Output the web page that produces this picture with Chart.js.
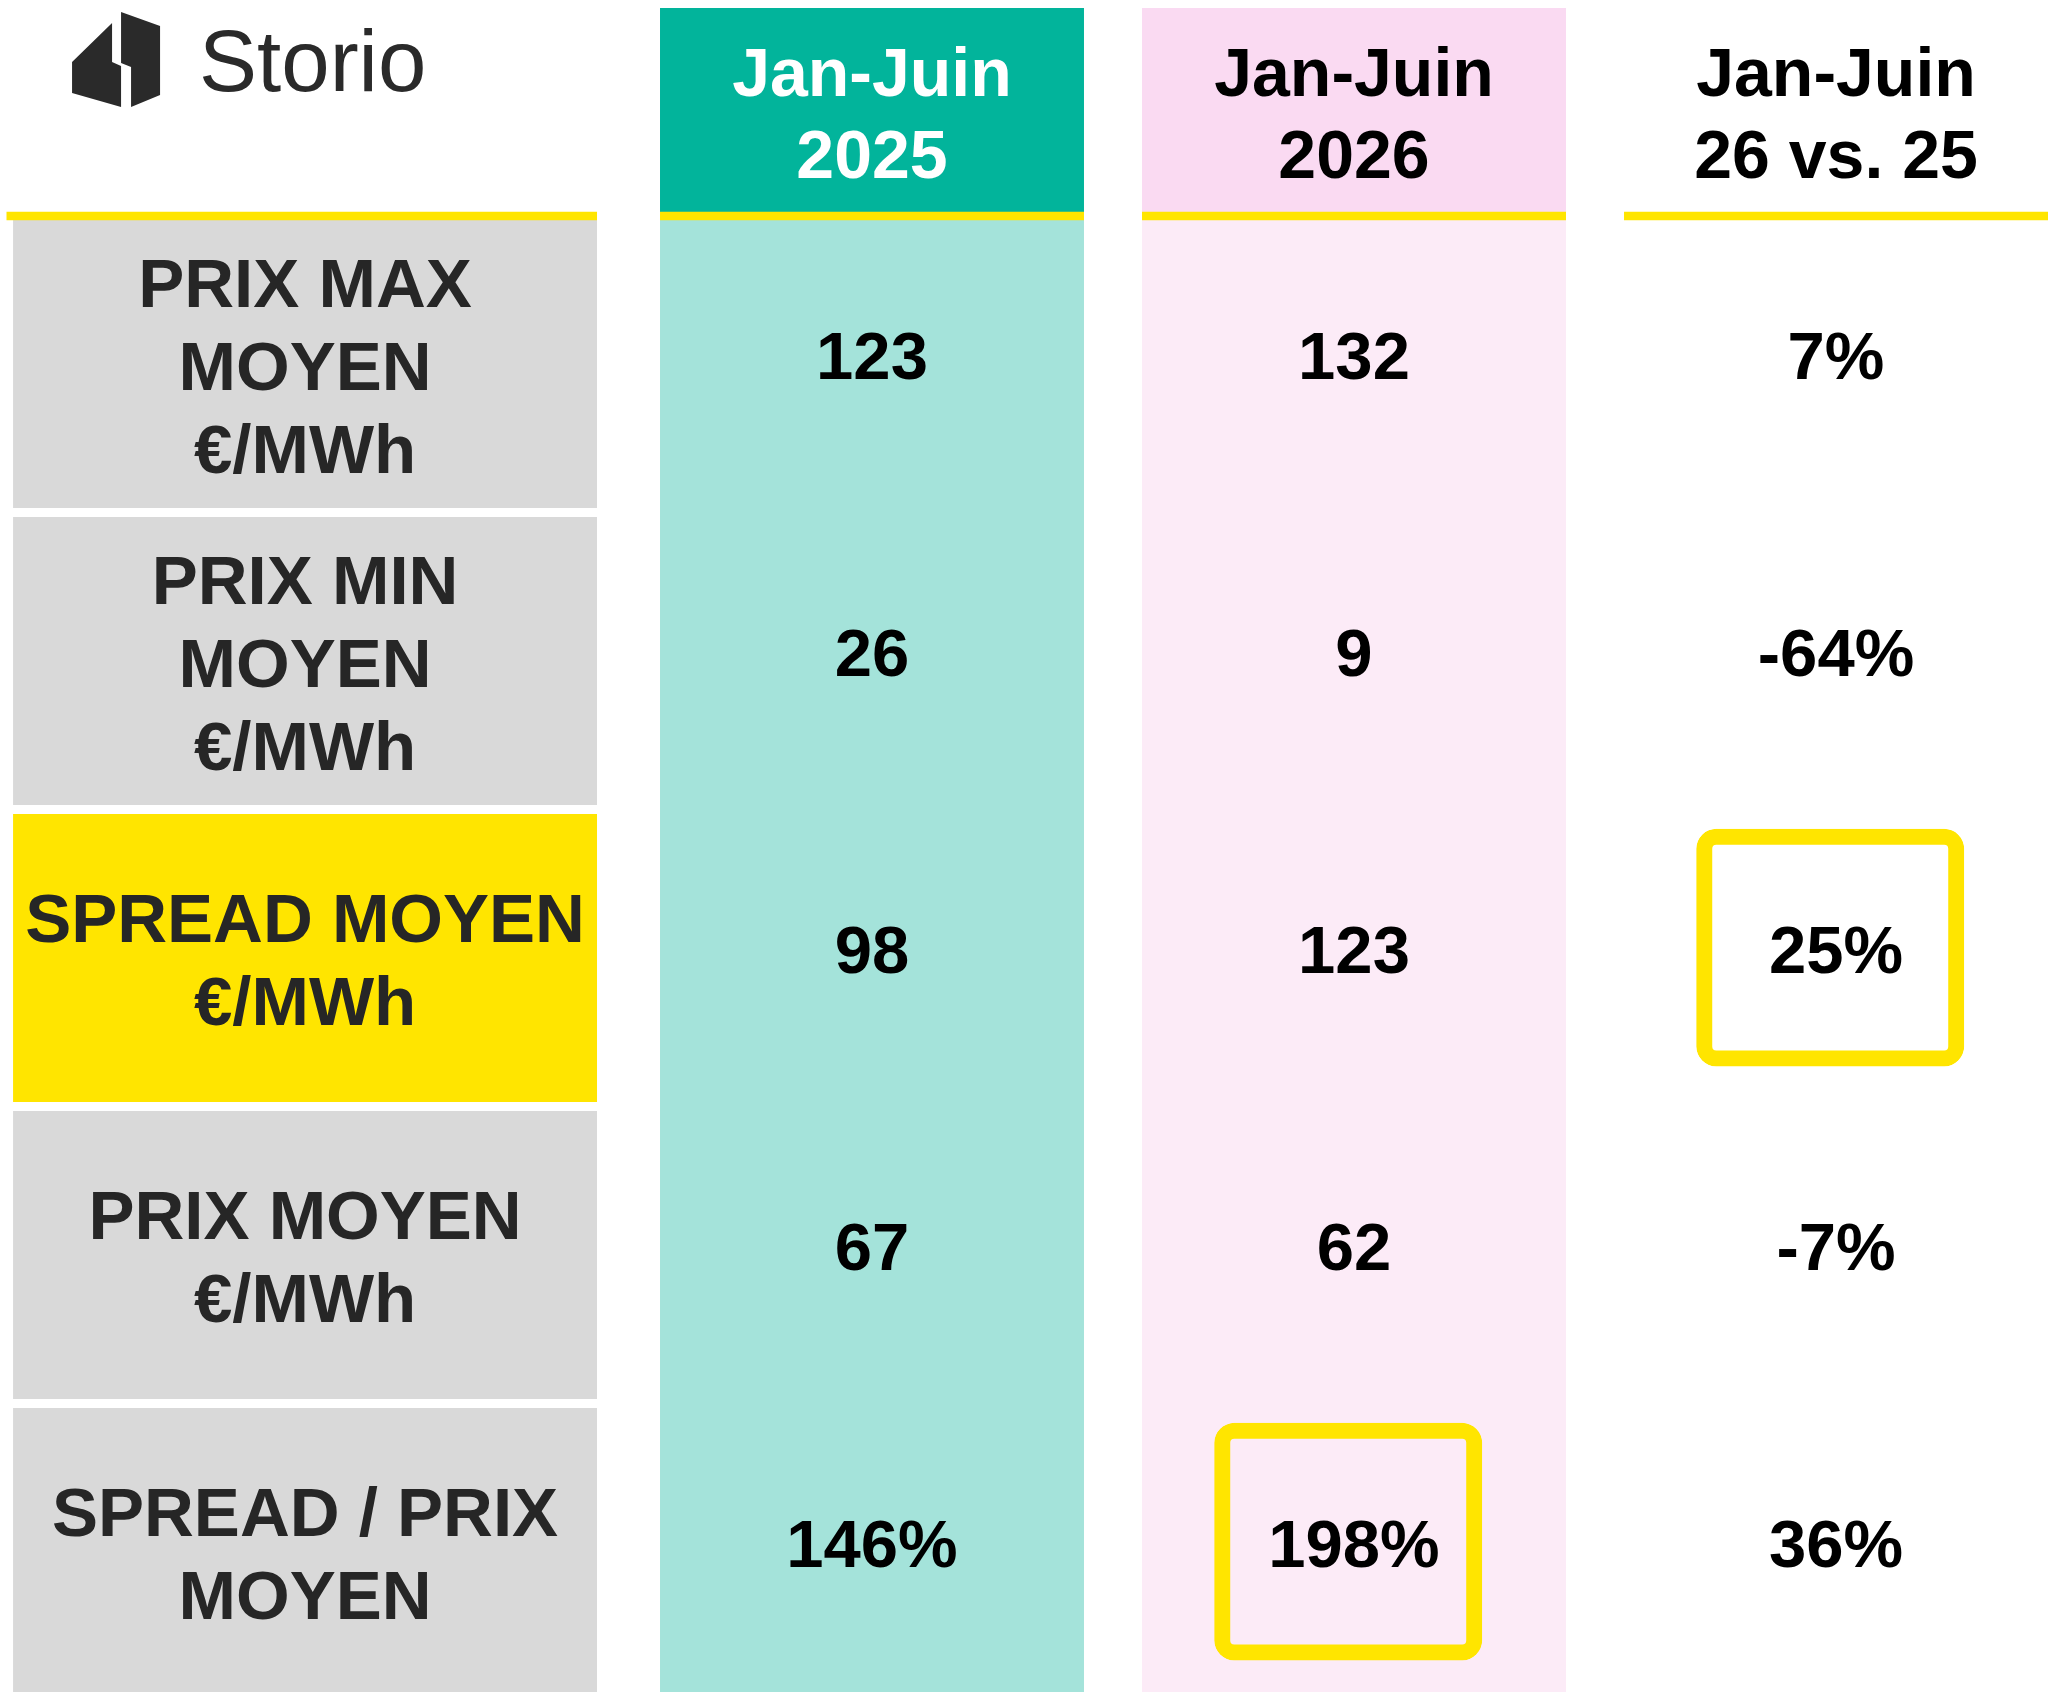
<!DOCTYPE html>
<html>
<head>
<meta charset="utf-8">
<script src="https://cdn.jsdelivr.net/npm/chart.js@4.4.1/dist/chart.umd.min.js"></script>
<style>
  html, body { margin: 0; padding: 0; background: #ffffff; }
  canvas { display: block; }
</style>
</head>
<body>
<canvas id="chart" width="2052" height="1692"></canvas>
<script>
// ---------------- data ----------------
const ROW_LABELS = [
  ["PRIX MAX", "MOYEN", "€/MWh"],
  ["PRIX MIN", "MOYEN", "€/MWh"],
  ["SPREAD MOYEN", "€/MWh"],
  ["PRIX MOYEN", "€/MWh"],
  ["SPREAD / PRIX", "MOYEN"]
];
const COLUMN_HEADERS = [["Jan-Juin", "2025"], ["Jan-Juin", "2026"], ["Jan-Juin", "26 vs. 25"]];
const VALUES_H1_2025 = [123, 26, 98, 67, 146];
const VALUES_H1_2026 = [132, 9, 123, 62, 198];
const CHANGE_26_VS_25 = [7, -64, 25, -7, 36];
const ROW_UNITS = ["", "", "", "", "%"];
const CHANGE_UNIT = "%";
const HIGHLIGHT_ROW = 2;
const HIGHLIGHT_CELLS = [{ column: 2, row: 2 }, { column: 1, row: 4 }];
const BRAND = "Storio";

// ---------------- layout (scale units) ----------------
const X_MIN = -1.8091, X_MAX = 2.4481;     // x: one unit = one data-column pitch
const Y_MIN = -0.7407, Y_MAX = 4.9562;     // y: one unit = one table row
const CANVAS_H = 1692;
const PX_PER_ROW = CANVAS_H / (Y_MAX - Y_MIN);
const rowsToPx = u => u * PX_PER_ROW;

const COL_HALF = 0.4398;
const LABEL_SPAN = [-1.782, -0.5705];
const LABEL_RULE_SPAN = [-1.7956, -0.5705];
const HEADER_SPAN = [-0.7138, -0.0269];
const RULE_SPAN = [-0.0269, 0.0];
const CELL_FILL = 0.97;
const LABEL_CENTER = 0.489;
const VALUE_CENTER = 0.456;
const HEADER_CENTER = -0.3603;
const HEADER_LINE_GAP = 0.276;
const LABEL_LINE_GAP = 0.2795;
const BOX_HALF_W = 0.278, BOX_H = 0.80, BOX_DX = -0.012, BOX_CY = 0.45;

// ---------------- styles ----------------
const TEAL = "#02B49B", TEAL_LIGHT = "#A4E3DA";
const PINK = "#FADAF2", PINK_LIGHT = "#FCEBF7";
const GRAY = "#D9D9D9", YELLOW = "#FFE500";
const LABEL_TEXT = "#262626", VALUE_TEXT = "#000000";
const FONT = '"Liberation Sans", Arial, Helvetica, sans-serif';
const CAP = 0.716;

const mid = s => (s[0] + s[1]) / 2;
const DATA_COLS = [0, 1, 2];
const COLUMN_VALUES = [
  VALUES_H1_2025.map((v, i) => v + ROW_UNITS[i]),
  VALUES_H1_2026.map((v, i) => v + ROW_UNITS[i]),
  CHANGE_26_VS_25.map(v => v + CHANGE_UNIT)
];

// body cells of the two period columns
const bodyData = [], bodyColors = [];
[0, 1].forEach(c => ROW_LABELS.forEach((_, i) => {
  bodyData.push({ y: i + 0.5, x: [c - COL_HALF, c + COL_HALF] });
  bodyColors.push(c === 0 ? TEAL_LIGHT : PINK_LIGHT);
}));

const headerData = [0, 1].map(c => ({ y: mid(HEADER_SPAN), x: [c - COL_HALF, c + COL_HALF] }));
const ruleData = [{ y: mid(RULE_SPAN), x: LABEL_RULE_SPAN }]
  .concat(DATA_COLS.map(c => ({ y: mid(RULE_SPAN), x: [c - COL_HALF, c + COL_HALF] })));
const labelCellData = ROW_LABELS.map((_, i) => ({ y: i + CELL_FILL / 2, x: LABEL_SPAN }));
const labelCellColors = ROW_LABELS.map((_, i) => i === HIGHLIGHT_ROW ? YELLOW : GRAY);
const boxData = HIGHLIGHT_CELLS.map(h => ({
  y: h.row + BOX_CY,
  x: [h.column + BOX_DX - BOX_HALF_W, h.column + BOX_DX + BOX_HALF_W]
}));

function drawText(ctx, text, x, cy, size, color, weight) {
  ctx.font = `${weight} ${size}px ${FONT}`;
  ctx.fillStyle = color;
  ctx.textAlign = "center";
  ctx.textBaseline = "alphabetic";
  ctx.fillText(text, x, cy + CAP * size / 2);
}

const tablePlugin = {
  id: "tableText",
  beforeDraw(chart) {
    const ctx = chart.ctx;
    ctx.save();
    ctx.fillStyle = "#ffffff";
    ctx.fillRect(0, 0, chart.width, chart.height);
    ctx.restore();
  },
  afterDatasetsDraw(chart) {
    const ctx = chart.ctx;
    const xs = chart.scales.x, ys = chart.scales.y;
    ctx.save();
    // column headers
    COLUMN_HEADERS.forEach((lines, c) => {
      const x = xs.getPixelForValue(c);
      lines.forEach((t, k) => {
        const yv = HEADER_CENTER + (k - (lines.length - 1) / 2) * HEADER_LINE_GAP;
        drawText(ctx, t, x, ys.getPixelForValue(yv), 68, c === 0 ? "#ffffff" : VALUE_TEXT, "bold");
      });
    });
    // row labels
    const lx = xs.getPixelForValue(mid(LABEL_SPAN));
    ROW_LABELS.forEach((lines, i) => {
      lines.forEach((t, k) => {
        const yv = i + LABEL_CENTER + (k - (lines.length - 1) / 2) * LABEL_LINE_GAP;
        drawText(ctx, t, lx, ys.getPixelForValue(yv), 69, LABEL_TEXT, "bold");
      });
    });
    // values
    COLUMN_VALUES.forEach((vals, c) => {
      const x = xs.getPixelForValue(c);
      vals.forEach((t, i) => {
        drawText(ctx, String(t), x, ys.getPixelForValue(i + VALUE_CENTER), 67, VALUE_TEXT, "bold");
      });
    });
    // brand logo (top-left of the label column)
    const ox = xs.getPixelForValue(LABEL_SPAN[0]) + 59;
    const oy = ys.getPixelForValue(HEADER_SPAN[0]) + 4;
    ctx.fillStyle = "#2a2a2a";
    const poly = pts => { ctx.beginPath(); pts.forEach((p, k) => k ? ctx.lineTo(ox + p[0], oy + p[1]) : ctx.moveTo(ox + p[0], oy + p[1])); ctx.closePath(); ctx.fill(); };
    poly([[40, 11], [0, 50], [0, 81], [49, 95], [49, 54], [40, 50]]);
    poly([[49, 0], [88, 14], [88, 83], [59, 95], [59, 55], [49, 51]]);
    ctx.font = `normal 87px ${FONT}`;
    ctx.textAlign = "left";
    ctx.textBaseline = "alphabetic";
    ctx.fillText(BRAND, ox + 127, oy + 79);
    ctx.restore();
  }
};

new Chart(document.getElementById("chart"), {
  type: "bar",
  data: {
    datasets: [
      {
        label: "highlight", data: boxData, order: 0, grouped: false,
        barThickness: rowsToPx(BOX_H), backgroundColor: "rgba(0,0,0,0)",
        borderColor: YELLOW, borderWidth: 16, borderSkipped: false, inflateAmount: 0,
        borderRadius: { topLeft: 20, topRight: 20, bottomLeft: 20, bottomRight: 20 }
      },
      {
        label: "rules", data: ruleData, order: 1, grouped: false,
        barThickness: rowsToPx(RULE_SPAN[1] - RULE_SPAN[0]) + 0.5,
        backgroundColor: YELLOW, borderWidth: 0, inflateAmount: 0
      },
      {
        label: "headers", data: headerData, order: 2, grouped: false,
        barThickness: rowsToPx(HEADER_SPAN[1] - HEADER_SPAN[0]),
        backgroundColor: [TEAL, PINK], borderWidth: 0, inflateAmount: 0
      },
      {
        label: "row labels", data: labelCellData, order: 3, grouped: false,
        barThickness: rowsToPx(CELL_FILL),
        backgroundColor: labelCellColors, borderWidth: 0, inflateAmount: 0
      },
      {
        label: "body", data: bodyData, order: 4, grouped: false,
        barThickness: rowsToPx(1) + 1,
        backgroundColor: bodyColors, borderWidth: 0, inflateAmount: 0
      }
    ]
  },
  options: {
    indexAxis: "y",
    responsive: false,
    animation: false,
    events: [],
    layout: { padding: 0 },
    plugins: { legend: { display: false }, tooltip: { enabled: false }, title: { display: false } },
    scales: {
      x: { type: "linear", min: X_MIN, max: X_MAX, display: false, offset: false, grid: { display: false } },
      y: { type: "linear", min: Y_MIN, max: Y_MAX, reverse: true, display: false, offset: false, grid: { display: false } }
    }
  },
  plugins: [tablePlugin]
});
</script>
</body>
</html>
